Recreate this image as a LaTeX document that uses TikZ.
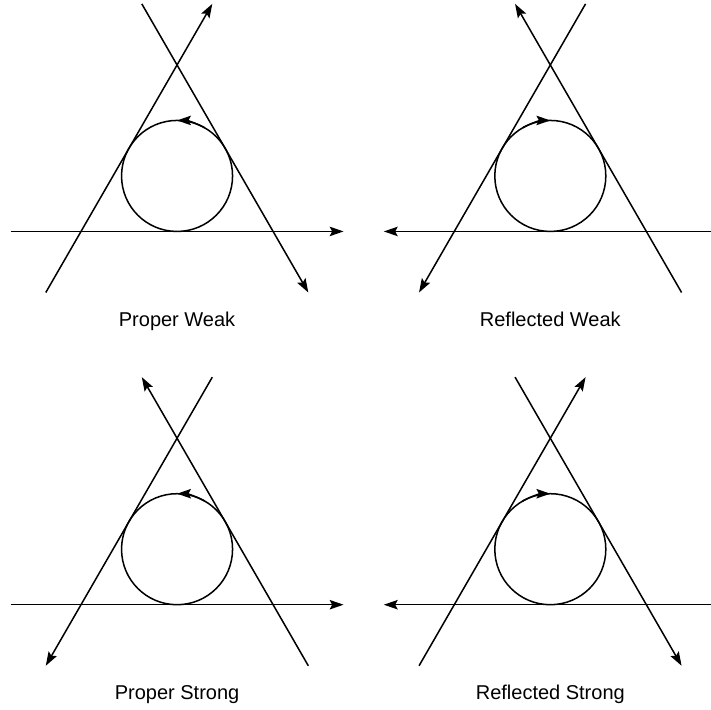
\documentclass[tikz,border=0pt]{standalone}
\usepackage{fontspec}
\setmainfont{Liberation Sans}
\usetikzlibrary{arrows.meta}

\begin{document}
\begin{tikzpicture}[line width=1.55pt, >={Stealth[length=5mm,width=3.4mm,inset=0.9mm]},
  font=\fontsize{20.5}{24}\selectfont]
  \useasboundingbox (-6.38,-19.21) rectangle (19.24,6.34);
  % Proper Weak
  \begin{scope}
    \draw (0,0) circle (2);
    \draw[->] (-6,-2) -- (6,-2);
    \draw[->] (-4.73,-4.2) -- (1.27,6.2);
    \draw[->] (-1.27,6.2) -- (4.73,-4.2);
    \draw[->] (60:2) arc (60:90:2);
    \node[anchor=base] (pw) at (0,-5.42) {Proper Weak};
  \end{scope}
  % Reflected Weak
  \begin{scope}[shift={(13.45,0)}]
    \draw (0,0) circle (2);
    \draw[<-] (-6,-2) -- (6,-2);
    \draw[<-] (-4.73,-4.2) -- (1.27,6.2);
    \draw[<-] (-1.27,6.2) -- (4.73,-4.2);
    \draw[->] (120:2) arc (120:90:2);
    \node[anchor=base] (rw) at (0,-5.42) {Reflected Weak};
  \end{scope}
  % Proper Strong
  \begin{scope}[shift={(0,-13.45)}]
    \draw (0,0) circle (2);
    \draw[->] (-6,-2) -- (6,-2);
    \draw[<-] (-4.73,-4.2) -- (1.27,6.2);
    \draw[<-] (-1.27,6.2) -- (4.73,-4.2);
    \draw[->] (60:2) arc (60:90:2);
    \node[anchor=base] (ps) at (0,-5.4) {Proper Strong};
  \end{scope}
  % Reflected Strong
  \begin{scope}[shift={(13.45,-13.45)}]
    \draw (0,0) circle (2);
    \draw[<-] (-6,-2) -- (6,-2);
    \draw[->] (-4.73,-4.2) -- (1.27,6.2);
    \draw[->] (-1.27,6.2) -- (4.73,-4.2);
    \draw[->] (120:2) arc (120:90:2);
    \node[anchor=base] (rs) at (0,-5.4) {Reflected Strong};
  \end{scope}
\end{tikzpicture}
\end{document}
